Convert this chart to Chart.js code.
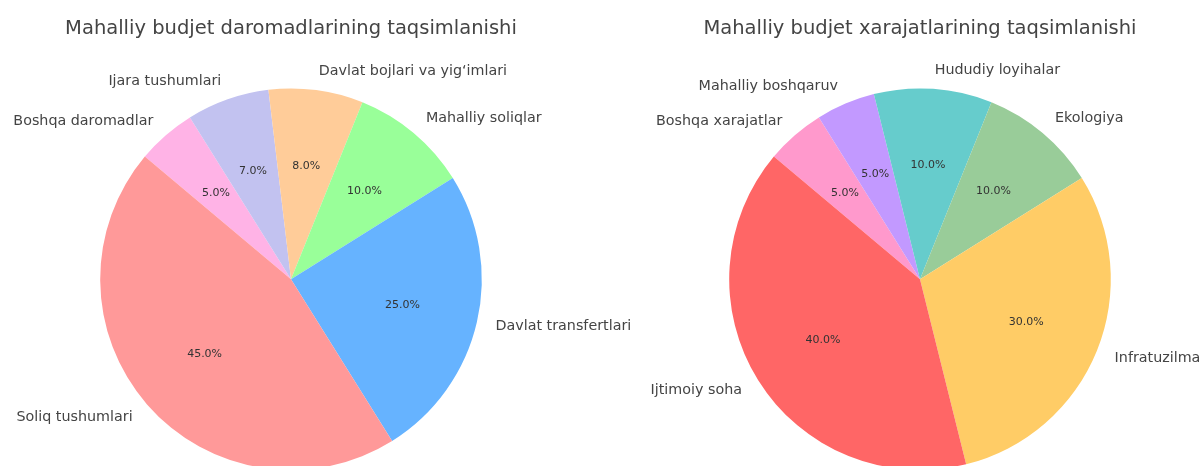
<!DOCTYPE html>
<html>
<head>
<meta charset="utf-8">
<script src="https://cdn.jsdelivr.net/npm/chart.js@4.4.1/dist/chart.umd.min.js"></script>
<style>
  html, body { margin: 0; padding: 0; background: #fff; overflow: hidden; }
  .box { position: absolute; top: 0; }
</style>
</head>
<body>
<div class="box" style="left:0"><canvas id="incomeChart" width="640" height="470"></canvas></div>
<div class="box" style="left:640px"><canvas id="expenseChart" width="563" height="470"></canvas></div>
<script>
// values (matplotlib order, counter-clockwise from 140 deg)
const incomeLabels = ['Soliq tushumlari', 'Davlat transfertlari', 'Mahalliy soliqlar',
    'Davlat bojlari va yig\u2018imlari', 'Ijara tushumlari', 'Boshqa daromadlar'];
const incomeValues = [45, 25, 10, 8, 7, 5];
const incomeColors = ['#ff9999', '#66b3ff', '#99ff99', '#ffcc99', '#c2c2f0', '#ffb3e6'];

const expenseLabels = ['Ijtimoiy soha', 'Infratuzilma', 'Ekologiya',
    'Hududiy loyihalar', 'Mahalliy boshqaruv', 'Boshqa xarajatlar'];
const expenseValues = [40, 30, 10, 10, 5, 5];
const expenseColors = ['#ff6666', '#ffcc66', '#99cc99', '#66cccc', '#c299ff', '#ff99cc'];

const FONT = "'DejaVu Sans', sans-serif";

// draws outside labels (1.1 r) and percentages (0.6 r) like matplotlib
const sliceText = {
    id: 'sliceText',
    afterDatasetsDraw(chart) {
        const ctx = chart.ctx;
        const meta = chart.getDatasetMeta(0);
        const data = chart.data.datasets[0].data;
        const total = data.reduce((a, b) => a + b, 0);
        ctx.save();
        meta.data.forEach((arc, i) => {
            const p = arc.getProps(['x', 'y', 'startAngle', 'endAngle', 'outerRadius'], true);
            const mid = (p.startAngle + p.endAngle) / 2;
            const cos = Math.cos(mid), sin = Math.sin(mid);

            const lx = p.x + cos * p.outerRadius * 1.1;
            const ly = p.y + sin * p.outerRadius * 1.1;
            ctx.font = '14.3px ' + FONT;
            ctx.fillStyle = '#444';
            ctx.textBaseline = 'middle';
            ctx.textAlign = cos >= 0 ? 'left' : 'right';
            ctx.fillText(chart.data.labels[i], lx, ly);

            const px = p.x + cos * p.outerRadius * 0.6;
            const py = p.y + sin * p.outerRadius * 0.6;
            ctx.font = '11px ' + FONT;
            ctx.fillStyle = '#333';
            ctx.textAlign = 'center';
            ctx.fillText((data[i] / total * 100).toFixed(1) + '%', px, py);
        });
        ctx.restore();
    }
};

function makePie(id, title, labels, values, colors, padRight) {
    // Chart.js goes clockwise, so reverse the matplotlib order
    const l = labels.slice().reverse();
    const v = values.slice().reverse();
    const c = colors.slice().reverse();
    return new Chart(document.getElementById(id), {
        type: 'pie',
        data: {
            labels: l,
            datasets: [{
                data: v,
                backgroundColor: c,
                borderWidth: 0
            }]
        },
        options: {
            responsive: false,
            animation: false,
            rotation: -50,
            layout: {
                padding: { top: 0, right: padRight, left: 0, bottom: 0 }
            },
            plugins: {
                legend: { display: false },
                tooltip: { enabled: false },
                title: {
                    display: true,
                    text: title,
                    color: '#444',
                    font: { size: 19.5, family: FONT, weight: 'normal' },
                    padding: { top: 17, bottom: 48 }
                }
            }
        },
        plugins: [sliceText]
    });
}

makePie('incomeChart', 'Mahalliy budjet daromadlarining taqsimlanishi',
    incomeLabels, incomeValues, incomeColors, 58);
makePie('expenseChart', 'Mahalliy budjet xarajatlarining taqsimlanishi',
    expenseLabels, expenseValues, expenseColors, 3);
</script>
</body>
</html>
